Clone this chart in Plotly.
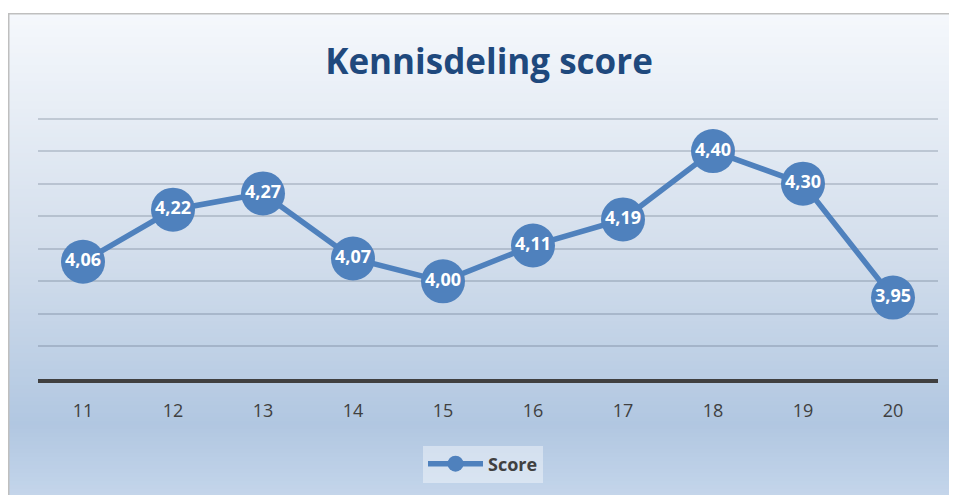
import plotly.graph_objects as go

# chart data
weeks = ["11", "12", "13", "14", "15", "16", "17", "18", "19", "20"]
scores = [4.06, 4.22, 4.27, 4.07, 4.00, 4.11, 4.19, 4.40, 4.30, 3.95]
labels = [f"{v:.2f}".replace(".", ",") for v in scores]

W, H = 957, 495
OFF = 8  # page body margin shifts the figure by 8px
ML, MR, MT, MB = 38 - OFF, 27, 104, 124
pw, ph = W - ML - MR, H - MT - MB


def px_to_paper(xp, yp):
    # xp, yp in page pixels
    xp -= OFF
    yp -= OFF
    return (xp - ML) / pw, (H - MB - yp) / ph


# vertical gradient stops (page y, rgb)
stops = [(13, (245, 248, 252)), (250, (211, 222, 236)),
         (425, (177, 199, 225)), (500, (197, 214, 235))]


def color_at(y):
    for (y0, c0), (y1, c1) in zip(stops, stops[1:]):
        if y0 <= y <= y1:
            t = (y - y0) / (y1 - y0)
            return "rgb(%d,%d,%d)" % tuple(round(a + (b - a) * t) for a, b in zip(c0, c1))
    return "rgb(%d,%d,%d)" % stops[-1][1]


shapes = []
band = 4
for y in range(13, H + 10, band):
    x0, y0 = px_to_paper(8, y)
    x1, y1 = px_to_paper(W + 20, y + band + 1)
    shapes.append(dict(type="rect", xref="paper", yref="paper", x0=x0, x1=x1,
                       y0=y1, y1=y0, fillcolor=color_at(y + band / 2),
                       line=dict(width=0), layer="below"))
bx0, by0 = px_to_paper(8.75, 13.75)
bx1, by1 = px_to_paper(W + 20, H + 20)
shapes.append(dict(type="rect", xref="paper", yref="paper", x0=bx0, x1=bx1,
                   y0=by1, y1=by0, line=dict(color="#bfbfbf", width=1.5),
                   fillcolor="rgba(0,0,0,0)", layer="below"))

fig = go.Figure()
fig.add_trace(go.Scatter(
    x=weeks, y=scores, name="Score", mode="lines+markers+text",
    text=labels, textposition="middle center",
    textfont=dict(family="Open Sans", size=18, color="white", weight="bold"),
    line=dict(color="#4f81bd", width=5.5),
    marker=dict(size=44, color="#4f81bd"),
))

fig.update_layout(
    width=W, height=H,
    margin=dict(l=ML, r=MR, t=MT, b=MB, autoexpand=False),
    paper_bgcolor="white", plot_bgcolor="rgba(0,0,0,0)",
    shapes=shapes,
    title=dict(text="<b>Kennisdeling score</b>", x=(489 - OFF) / W, xanchor="center",
               y=1 - (62 - OFF) / H, yanchor="middle",
               font=dict(family="Open Sans", size=35, color="#1f497d")),
    xaxis=dict(type="category", range=[-0.5, len(weeks) - 0.5], showgrid=False,
               showline=True, linecolor="#404040", linewidth=4, ticks="",
               ticklabelstandoff=12,
               tickfont=dict(family="Open Sans", size=18, color="#404040")),
    yaxis=dict(range=[3.7, 4.52], tickvals=[3.8, 3.9, 4.0, 4.1, 4.2, 4.3, 4.4, 4.5],
               showticklabels=False, zeroline=False,
               gridcolor="rgba(80,95,115,0.25)", gridwidth=1.5),
    showlegend=True,
    legend=dict(orientation="h", x=(483 - OFF - ML) / pw, xanchor="center",
                y=(H - MB - (464 - OFF)) / ph, yanchor="middle",
                bgcolor="rgba(255,255,255,0.4)", borderwidth=0,
                font=dict(family="Open Sans", size=18, color="#404040", weight="bold"),
                itemwidth=55),
)

fig.write_html("out.html")
